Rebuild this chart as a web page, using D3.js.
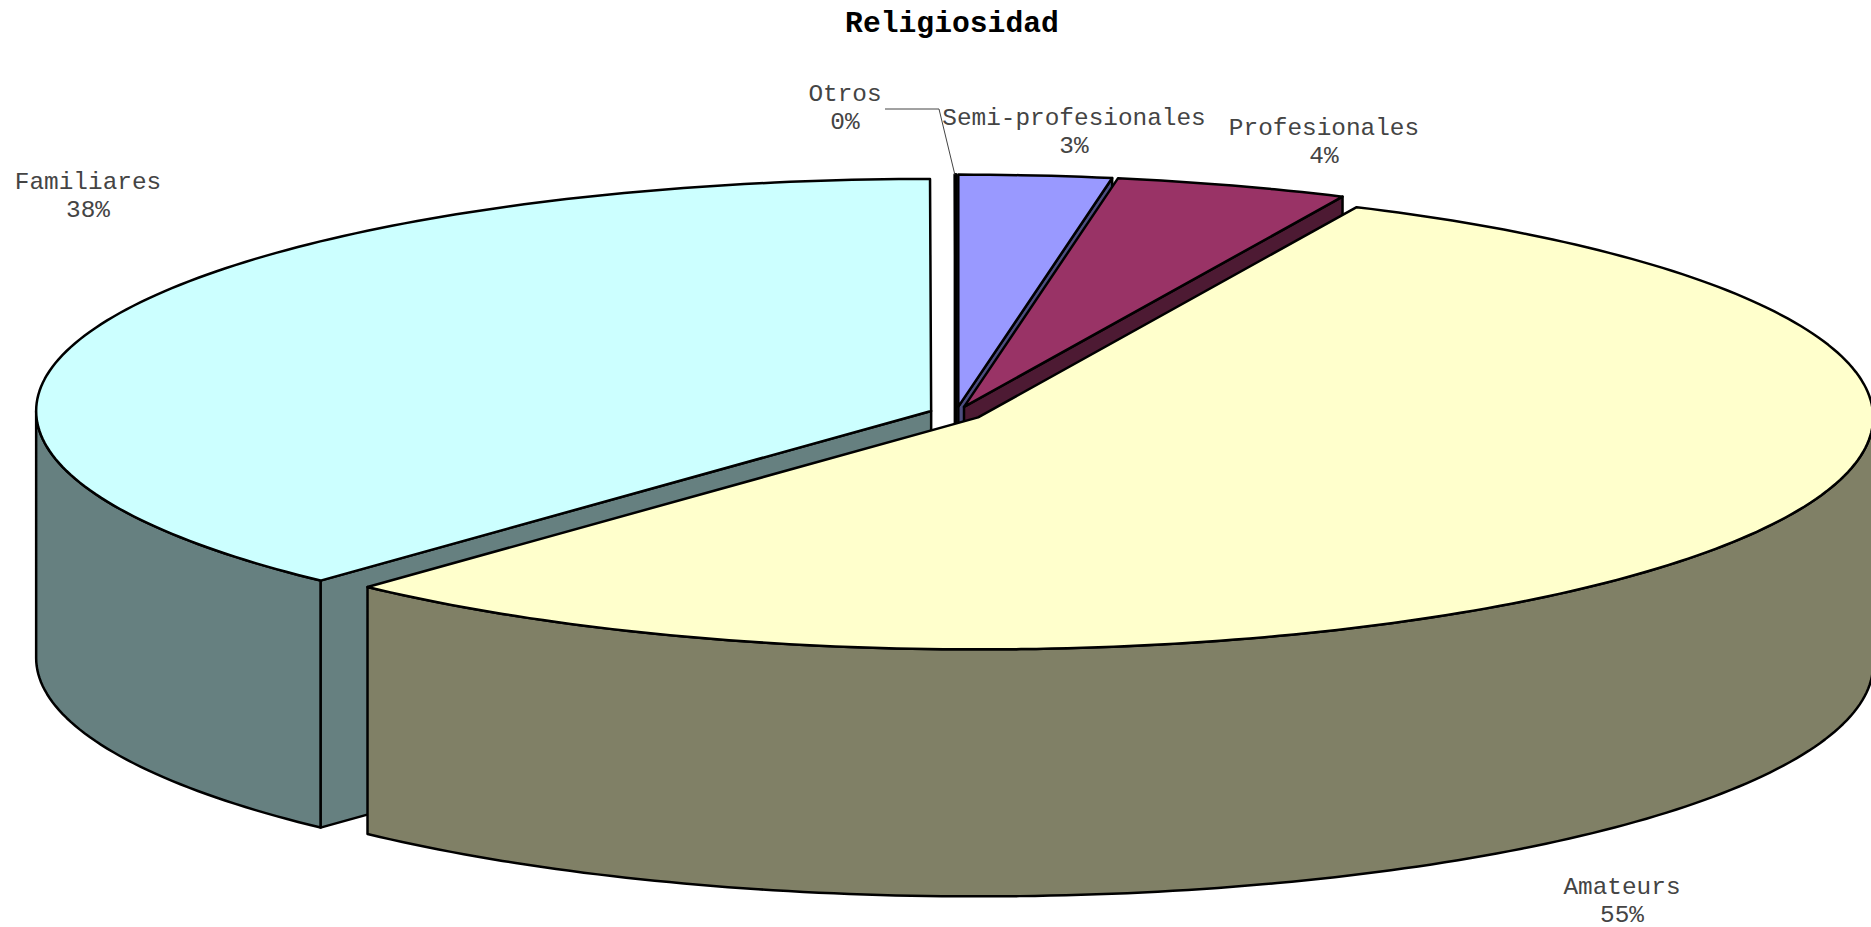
<!DOCTYPE html>
<html>
<head>
<meta charset="utf-8">
<script src="https://cdnjs.cloudflare.com/ajax/libs/d3/7.8.5/d3.min.js"></script>
<style>
  html, body { margin: 0; padding: 0; background: #fff; overflow: hidden; }
  svg { display: block; }
</style>
</head>
<body>
<svg></svg>
<script>
// clockwise from 12 o'clock, same order as the original sheet
const categories = ["Semi-profesionales", "Profesionales", "Amateurs", "Familiares", "Otros"];
const values = [2.75, 4.2, 55, 38.03, 0.02];
const colors = ["#9999ff", "#993366", "#ffffcc", "#ccffff", "#660066"];
const chartTitle = "Religiosidad";

const width = 1871;
const height = 927;

// pie geometry, tilted ellipse + extruded wall
const cx = 956;
const cy = 413.5;
const rx = 895;
const ry = 232;
const depth = 247;
const explode = 26.7;

const svg = d3.select("svg").attr("width", width).attr("height", height);

const pie = d3.pie().sort(null).value((d) => d.value);
const slices = pie(
  categories.map((name, i) => ({ name, value: values[i], color: colors[i] }))
);

// half brightness for walls, like the excel 3d pie
const shade = (c) => {
  const rgb = d3.rgb(c);
  return d3.rgb(rgb.r * 0.5, rgb.g * 0.5, rgb.b * 0.5).formatHex();
};

const origin = (s) => {
  const mid = (s.startAngle + s.endAngle) / 2;
  return [
    cx + explode * Math.sin(mid),
    cy - (explode * ry * Math.cos(mid)) / rx,
  ];
};

const rimPoint = (s, a, dz = 0) => {
  const [ox, oy] = origin(s);
  return [ox + rx * Math.sin(a), oy - ry * Math.cos(a) + dz];
};

const rim = (s, a0, a1, dz = 0) => {
  const n = Math.max(2, Math.ceil(((a1 - a0) * 180) / Math.PI));
  return d3.range(n + 1).map((i) => rimPoint(s, a0 + ((a1 - a0) * i) / n, dz));
};

const line = d3.line().curve(d3.curveLinearClosed);

const drawShape = (pts, fill) => {
  svg
    .append("path")
    .attr("d", line(pts))
    .attr("fill", fill)
    .attr("stroke", "#000")
    .attr("stroke-width", 2.5)
    .attr("stroke-linejoin", "round");
};

const cutFace = (s, a, fill) => {
  const [ox, oy] = origin(s);
  const p = rimPoint(s, a);
  drawShape(
    [[ox, oy], p, [p[0], p[1] + depth], [ox, oy + depth]],
    fill
  );
};

// back to front: the big front slice has to go last
const drawOrder = ["Otros", "Familiares", "Semi-profesionales", "Profesionales", "Amateurs"];

drawOrder.forEach((name) => {
  const s = slices.find((d) => d.data.name === name);
  const side = shade(s.data.color);

  // cut faces that look at the viewer
  if (Math.sin(s.startAngle) < 0) cutFace(s, s.startAngle, side);
  if (Math.sin(s.endAngle) > 0) cutFace(s, s.endAngle, side);

  // outer wall, front half of the rim only
  const a0 = Math.max(s.startAngle, Math.PI / 2);
  const a1 = Math.min(s.endAngle, (3 * Math.PI) / 2);
  if (a1 > a0) {
    drawShape(rim(s, a0, a1).concat(rim(s, a0, a1, depth).reverse()), side);
  }

  // top
  drawShape([origin(s)].concat(rim(s, s.startAngle, s.endAngle)), s.data.color);
});

// hand placed like the original labels
const labelPos = {
  "Semi-profesionales": [1074, 117],
  Profesionales: [1324, 127],
  Amateurs: [1622, 886],
  Familiares: [88, 181],
  Otros: [845, 93],
};

const labels = svg
  .selectAll(".label")
  .data(slices)
  .enter()
  .append("text")
  .attr("class", "label")
  .attr("text-anchor", "middle")
  .style("font-family", "'Liberation Mono', monospace")
  .style("font-size", "24.4px")
  .style("fill", "#444");

labels
  .append("tspan")
  .attr("x", (d) => labelPos[d.data.name][0])
  .attr("y", (d) => labelPos[d.data.name][1] + 8)
  .text((d) => d.data.name);

labels
  .append("tspan")
  .attr("x", (d) => labelPos[d.data.name][0])
  .attr("y", (d) => labelPos[d.data.name][1] + 35.5)
  .text((d) => Math.round(d.data.value) + "%");

// leader for Otros
const otros = slices.find((d) => d.data.name === "Otros");
const tip = rimPoint(otros, otros.startAngle);
svg
  .append("path")
  .attr("d", d3.line()([[885, 109], [939, 109], tip]))
  .attr("fill", "none")
  .attr("stroke", "#444")
  .attr("stroke-width", 1);

svg
  .append("text")
  .attr("x", 952)
  .attr("y", 32)
  .attr("text-anchor", "middle")
  .text(chartTitle)
  .style("font-family", "'Liberation Mono', monospace")
  .style("font-weight", "bold")
  .style("font-size", "29.7px")
  .style("fill", "#000");
</script>
</body>
</html>
